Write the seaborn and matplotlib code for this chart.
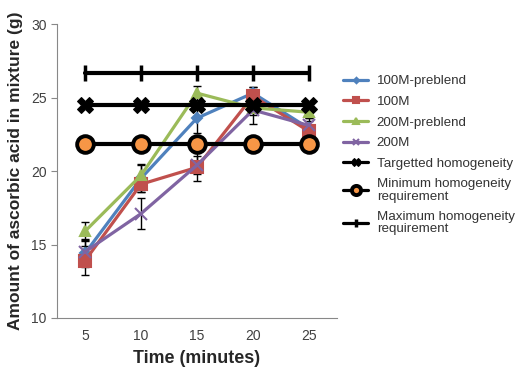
import matplotlib
matplotlib.use("Agg")
import matplotlib.pyplot as plt
import seaborn as sns
import pandas as pd

times = [5, 10, 15, 20, 25]
series_names = ["100M-preblend", "100M", "200M-preblend", "200M"]
v_100m_pre = [14.4, 19.5, 23.6, 25.3, 22.9]
v_100m = [13.9, 19.1, 20.25, 25.1, 22.7]
v_200m_pre = [15.9, 19.7, 25.3, 24.3, 24.0]
v_200m = [14.5, 17.1, 20.4, 24.15, 23.1]
e_100m_pre = [0.9, 0.9, 1.0, 0.4, 0.5]
e_100m = [1.0, 0.5, 0.95, 0.6, 0.4]
e_200m_pre = [0.65, 0.8, 0.5, 0.5, 0.4]
e_200m = [0.9, 1.05, 0.6, 0.95, 0.5]
targeted = [24.5] * 5
minimum = [21.85] * 5
maximum = [26.7] * 5
ref_names = ["Targetted homogeneity", "Minimum homogeneity\nrequirement",
             "Maximum homogeneity\nrequirement"]

sns.set_style("white")
plt.rcParams['font.family'] = ['Liberation Sans', 'DejaVu Sans']

fig = plt.figure(figsize=(5.24, 3.76), dpi=100)
ax = fig.add_axes([0.1088, 0.1543, 0.643 - 0.1088, 0.936 - 0.1543])

colors = ["#4F81BD", "#C0504D", "#9BBB59", "#8064A2"]
markers = ["D", "s", "^", "x"]
msizes = [5, 8, 7, 8]
vals = [v_100m_pre, v_100m, v_200m_pre, v_200m]
errs = [e_100m_pre, e_100m, e_200m_pre, e_200m]

for name, v, e, c, m, ms in zip(series_names, vals, errs, colors, markers, msizes):
    df = pd.DataFrame({"t": times, "v": v})
    ax.errorbar(times, v, yerr=e, fmt="none", ecolor="black", elinewidth=1,
                capsize=3, capthick=1, zorder=2)
    sns.lineplot(data=df, x="t", y="v", ax=ax, color=c, marker=m, markersize=ms,
                 linewidth=2.3, markeredgecolor=c, markeredgewidth=1.5,
                 label=name, zorder=3)

sns.lineplot(x=times, y=targeted, ax=ax, color="black", marker="X", markersize=11,
             linewidth=3, markeredgecolor="black", label=ref_names[0], zorder=4)
sns.lineplot(x=times, y=minimum, ax=ax, color="black", marker="o", markersize=12,
             linewidth=3, markerfacecolor="#F79646", markeredgecolor="black",
             markeredgewidth=2.8, label=ref_names[1], zorder=4)
sns.lineplot(x=times, y=maximum, ax=ax, color="black", marker="|", markersize=11,
             linewidth=3, markeredgecolor="black", markeredgewidth=2.5,
             label=ref_names[2], zorder=4)

ax.set_xlim(2.5, 27.5)
ax.set_ylim(10, 30)
ax.set_yticks([10, 15, 20, 25, 30])
ax.set_xticks([2.5, 7.5, 12.5, 17.5, 22.5, 27.5])
ax.set_xticklabels([])
ax.set_xticks(times, minor=True)
ax.set_xticklabels([str(t) for t in times], minor=True)
ax.tick_params(axis="x", which="minor", length=0, pad=8, labelsize=10, labelcolor="#404040")
ax.tick_params(axis="x", which="major", length=4, direction="in", color="#888888")
ax.tick_params(axis="y", length=4, direction="out", color="#888888", labelsize=10,
               labelcolor="#404040", left=True)
for s in ["top", "right"]:
    ax.spines[s].set_visible(False)
for s in ["left", "bottom"]:
    ax.spines[s].set_color("#888888")
    ax.spines[s].set_linewidth(0.8)

ax.set_xlabel("Time (minutes)", fontsize=12.9, fontweight="bold", labelpad=5)
ax.set_ylabel("Amount of ascorbic acid in mixture (g)", fontsize=12.5,
              fontweight="bold", labelpad=6)

leg = ax.legend(loc="upper left", bbox_to_anchor=(0.99, 0.858), frameon=False,
                fontsize=9.6, handlelength=1.85, labelspacing=0.62, borderaxespad=0.3,
                handletextpad=0.65, markerscale=0.55)
for t in leg.get_texts():
    t.set_color("#333333")
    t.set_linespacing(1.05)
for h in leg.get_lines():
    h.set_linewidth(2.3)

fig.savefig("out.png", dpi=100)
